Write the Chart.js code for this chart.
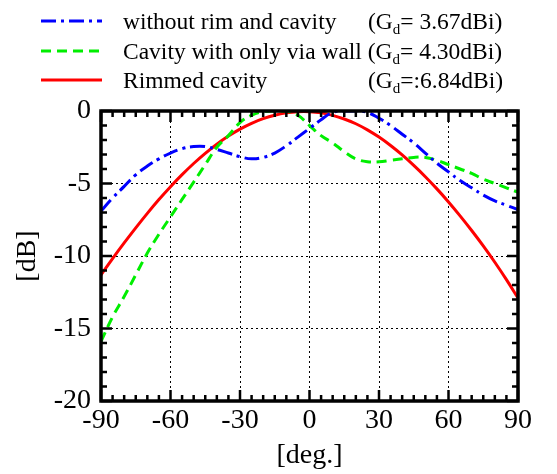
<!DOCTYPE html>
<html>
<head>
<meta charset="utf-8">
<script src="https://cdn.jsdelivr.net/npm/chart.js@4/dist/chart.umd.min.js"></script>
<style>
  html, body { margin: 0; padding: 0; background: #fff; }
  #wrap { position: relative; width: 557px; height: 474px; }
</style>
</head>
<body>
<div id="wrap"><canvas id="c" width="557" height="474"></canvas></div>
<script>
// ---- data ----
const angles = [-90,-85,-80,-75,-70,-65,-60,-55,-50,-45,-40,-35,-30,-25,-20,-15,-10,-5,0,5,10,15,20,25,30,35,40,45,50,55,60,65,70,75,80,85,90];

const withoutRim = [-6.9,-6.0,-5.2,-4.4,-3.8,-3.3,-2.9,-2.6,-2.45,-2.45,-2.65,-2.9,-3.15,-3.3,-3.2,-2.9,-2.4,-1.8,-1.2,-0.6,-0.1,0,0,-0.1,-0.5,-1.0,-1.6,-2.2,-2.9,-3.6,-4.2,-4.8,-5.3,-5.8,-6.2,-6.5,-6.8];

const viaWall = [-15.9,-14.2,-12.8,-11.3,-9.8,-8.5,-7.3,-6.1,-4.9,-3.7,-2.5,-1.7,-0.8,-0.3,-0.05,0,0,-0.3,-1.0,-1.7,-2.2,-2.8,-3.3,-3.5,-3.5,-3.4,-3.3,-3.2,-3.2,-3.4,-3.7,-4.0,-4.3,-4.7,-5.0,-5.3,-5.6];

const rimmed = [-11.3,-10.18,-9.1,-8.06,-7.06,-6.11,-5.22,-4.39,-3.62,-2.92,-2.29,-1.73,-1.25,-0.85,-0.53,-0.29,-0.13,-0.05,-0.05,-0.13,-0.3,-0.55,-0.88,-1.3,-1.8,-2.38,-3.03,-3.75,-4.53,-5.37,-6.27,-7.23,-8.24,-9.3,-10.43,-11.63,-12.9];

const seriesNames = ['without rim and cavity', 'Cavity with only via wall', 'Rimmed cavity'];
const gainLabels = ['= 3.67dBi)', '= 4.30dBi)', '=:6.84dBi)'];
const xTicks = [-90,-60,-30,0,30,60,90];
const yTicks = [0,-5,-10,-15,-20];

const FONT = '"Liberation Serif", "Times New Roman", serif';
const colors = ['#0000ff', '#00ee00', '#ff0000'];
const dashes = [[15,5,3,5], [10,6], []];

function pts(arr) { return angles.map((a, i) => ({x: a, y: arr[i]})); }

// ---- plugin: frame, inward ticks, legend ----
const decor = {
  id: 'decor',
  afterDraw(chart) {
    const ctx = chart.ctx;
    const xs = chart.scales.x, ys = chart.scales.y;
    const a = chart.chartArea;
    ctx.save();
    ctx.strokeStyle = '#000';
    ctx.lineCap = 'butt';
    ctx.lineWidth = 2.5;
    for (let v = -90; v <= 90; v += 5) {
      const px = xs.getPixelForValue(v);
      const len = (v % 30 === 0) ? 11 : 6;
      ctx.beginPath();
      ctx.moveTo(px, a.bottom); ctx.lineTo(px, a.bottom - len);
      ctx.moveTo(px, a.top); ctx.lineTo(px, a.top + len);
      ctx.stroke();
    }
    for (let v = -20; v <= 0; v += 1) {
      const py = ys.getPixelForValue(v);
      const len = (v % 5 === 0) ? 11 : 6;
      ctx.beginPath();
      ctx.moveTo(a.left, py); ctx.lineTo(a.left + len, py);
      ctx.moveTo(a.right, py); ctx.lineTo(a.right - len, py);
      ctx.stroke();
    }
    ctx.lineWidth = 3.5;
    ctx.strokeRect(a.left, a.top, a.right - a.left, a.bottom - a.top);

    // legend
    const rows = [29, 59, 88];
    const gX = [368, null, 368];
    ctx.fillStyle = '#000';
    ctx.textBaseline = 'alphabetic';
    ctx.textAlign = 'left';
    for (let i = 0; i < 3; i++) {
      const by = rows[i];
      ctx.strokeStyle = colors[i];
      ctx.lineWidth = 3;
      ctx.setLineDash(dashes[i]);
      ctx.beginPath();
      ctx.moveTo(41, by - 8); ctx.lineTo(102, by - 8);
      ctx.stroke();
      ctx.setLineDash([]);
      ctx.font = '23.5px ' + FONT;
      ctx.fillText(seriesNames[i], 123, by);
      let x = gX[i];
      if (x === null) x = 123 + ctx.measureText(seriesNames[i] + ' ').width;
      ctx.fillText('(G', x, by);
      x += ctx.measureText('(G').width;
      ctx.font = '15px ' + FONT;
      ctx.fillText('d', x, by + 5);
      x += ctx.measureText('d').width;
      ctx.font = '23.5px ' + FONT;
      ctx.fillText(gainLabels[i], x, by);
    }
    ctx.restore();
  }
};

new Chart(document.getElementById('c'), {
  type: 'line',
  data: {
    datasets: [
      { label: seriesNames[0], data: pts(withoutRim), borderColor: colors[0], borderDash: dashes[0], borderWidth: 3, pointRadius: 0, fill: false, tension: 0.4 },
      { label: seriesNames[1], data: pts(viaWall), borderColor: colors[1], borderDash: dashes[1], borderWidth: 3, pointRadius: 0, fill: false, tension: 0.4 },
      { label: seriesNames[2], data: pts(rimmed), borderColor: colors[2], borderDash: dashes[2], borderWidth: 3, pointRadius: 0, fill: false, tension: 0.4 }
    ]
  },
  options: {
    responsive: false,
    animation: false,
    devicePixelRatio: 1,
    layout: { padding: { top: 111, right: 39, left: 0, bottom: 0 } },
    plugins: { legend: { display: false }, tooltip: { enabled: false } },
    scales: {
      x: {
        type: 'linear', min: -90, max: 90,
        afterBuildTicks: s => { s.ticks = xTicks.map(v => ({value: v})); },
        afterFit: s => { s.height = 73; },
        grid: { color: '#000', lineWidth: 1, drawTicks: false },
        border: { display: false, dash: [2, 3] },
        ticks: { color: '#000', font: { family: FONT, size: 28 }, padding: 3, maxRotation: 0, autoSkip: false },
        title: { display: true, text: '[deg.]', color: '#000', font: { family: FONT, size: 28 }, padding: { top: 0, bottom: 2 } }
      },
      y: {
        type: 'linear', min: -20, max: 0,
        afterBuildTicks: s => { s.ticks = yTicks.map(v => ({value: v})); },
        afterFit: s => { s.width = 101; },
        grid: { color: '#000', lineWidth: 1, drawTicks: false },
        border: { display: false, dash: [2, 3] },
        ticks: { color: '#000', font: { family: FONT, size: 28 }, padding: 10, autoSkip: false },
        title: { display: true, text: '[dB]', color: '#000', font: { family: FONT, size: 28 }, padding: { top: 11, bottom: 0 } }
      }
    }
  },
  plugins: [decor]
});
</script>
</body>
</html>
